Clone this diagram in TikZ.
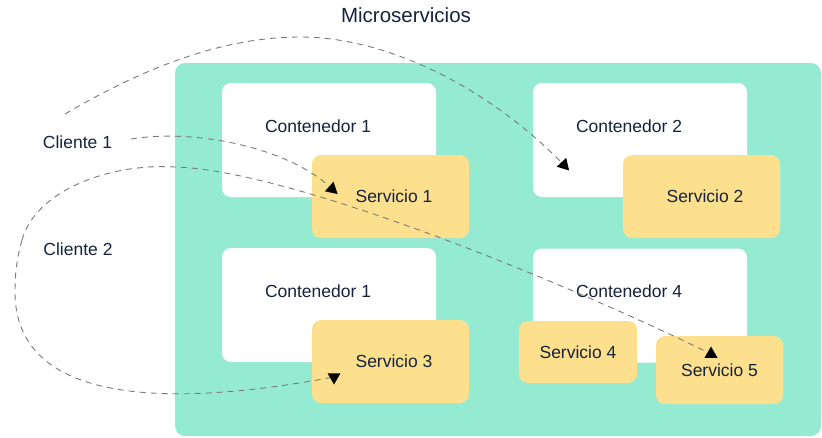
\documentclass[tikz,border=0pt]{standalone}
\usepackage{fontspec}
\setmainfont{Liberation Sans}
\usetikzlibrary{shapes.geometric}
\definecolor{mint}{HTML}{95EAD2}
\definecolor{sand}{HTML}{FDE08D}
\definecolor{ink}{HTML}{15223D}
\definecolor{wire}{HTML}{7A7A7A}

\begin{document}
\begin{tikzpicture}[x=1pt,y=-1pt,
pod/.style={fill=white,rounded corners=9pt,minimum width=214pt,minimum height=114pt,inner sep=0pt},
svc/.style={fill=sand,rounded corners=9pt,inner sep=0pt,text=ink,font=\fontsize{17.5}{21}\selectfont},
lbl/.style={text=ink,font=\fontsize{17.5}{21}\selectfont,inner sep=0pt},
flow/.style={draw=wire,line width=0.9pt,dash pattern=on 6pt off 5pt},
pointer/.style={regular polygon,regular polygon sides=3,fill=black,inner sep=0pt,minimum size=15pt}]
\useasboundingbox (0,0) rectangle (822,437);
\node[fill=mint,rounded corners=10pt,minimum width=646pt,minimum height=373pt,inner sep=0pt] (area) at (498,249.5) {};
\node[lbl,font=\fontsize{20.5}{24}\selectfont] (title) at (406,15) {Microservicios};
\node[lbl] (cl1) at (77.5,142) {Cliente 1};
\node[lbl] (cl2) at (78,249) {Cliente 2};
\node[pod] (k1) at (329,140) {};
\node[pod] (k2) at (640,140) {};
\node[pod] (k3) at (329,305) {};
\node[pod] (k4) at (640,305.5) {};
\node[lbl,anchor=west] (k1t) at ([xshift=43pt,yshift=-43pt]k1.north west) {Contenedor 1};
\node[lbl,anchor=west] (k2t) at ([xshift=43pt,yshift=-43pt]k2.north west) {Contenedor 2};
\node[lbl,anchor=west] (k3t) at ([xshift=43pt,yshift=-43pt]k3.north west) {Contenedor 1};
\node[lbl,anchor=west] (k4t) at ([xshift=43pt,yshift=-43pt]k4.north west) {Contenedor 4};
\node[svc,minimum width=157pt,minimum height=83pt] (s1) at (390.5,196.5) {\hspace*{7pt}Servicio 1};
\node[svc,minimum width=157pt,minimum height=83pt] (s2) at (701.5,196.5) {\hspace*{7pt}Servicio 2};
\node[svc,minimum width=157pt,minimum height=83pt] (s3) at (390.5,361.5) {\hspace*{7pt}Servicio 3};
\node[svc,minimum width=118pt,minimum height=62pt] (s4) at (578,352) {Servicio 4};
\node[svc,minimum width=127pt,minimum height=68pt] (s5) at (719.5,370) {Servicio 5};
\node[pointer,rotate=-12] (t1) at (332,189) {};
\node[pointer,rotate=-17] (t2) at (564,165) {};
\node[pointer,rotate=180] (t3) at (334,377) {};
\node[pointer] (t5) at (711,354) {};
\coordinate (c1a) at (65,114);
\coordinate (c1b) at (131,139);
\coordinate (c2a) at (22,240);
\draw[flow] (c1a) .. controls (140,70) and (220,37) .. (300,37) .. controls (390,37) and (490,90) .. (t2);
\draw[flow] (c1b) .. controls (200,128) and (290,150) .. (t1);
\draw[flow] (c2a) .. controls (36,190) and (110,163) .. (175,167) .. controls (290,170) and (560,280) .. (t5);
\draw[flow] (c2a) .. controls (17,258) and (15,272) .. (15,292) .. controls (15,380) and (110,418) .. (t3);
\end{tikzpicture}
\end{document}
